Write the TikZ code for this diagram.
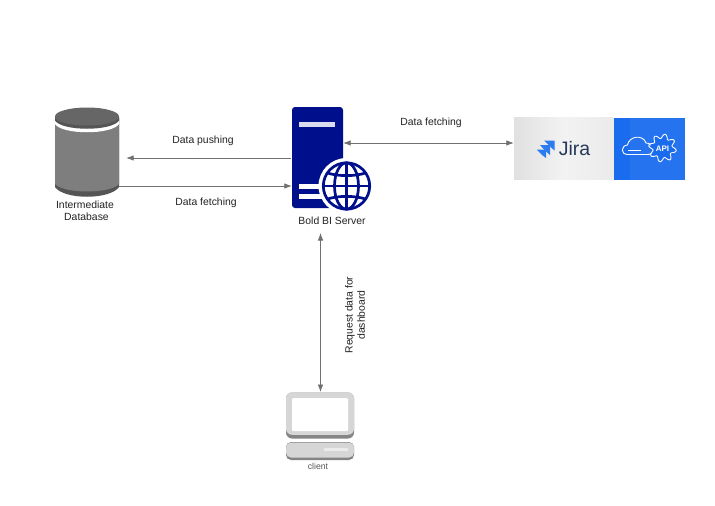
\documentclass[tikz,border=0pt]{standalone}
\usepackage{fontspec}
\setmainfont{Liberation Sans}
\usetikzlibrary{arrows.meta,calc}
\definecolor{navy}{HTML}{00108C}
\definecolor{lin}{HTML}{707070}
\definecolor{dbbody}{HTML}{7E7E7E}
\definecolor{dbtop}{HTML}{666666}
\definecolor{dbdark}{HTML}{555555}
\definecolor{txt}{HTML}{222222}
\definecolor{jirablue}{HTML}{2C7BEF}
\definecolor{jiradark}{HTML}{253858}
\definecolor{apiblue}{HTML}{1A6CEE}
\definecolor{mon}{HTML}{D6D6D6}
\definecolor{mondark}{HTML}{858585}
\tikzset{
  x=1pt,y=-1pt,
  conn/.style={draw=lin,line width=0.7pt},
  tip/.style={-{Latex[length=7.5pt,width=5.5pt]}},
  both/.style={{Latex[length=7.5pt,width=5.5pt]}-{Latex[length=7.5pt,width=5.5pt]}},
  lbl/.style={font=\fontsize{10.4}{12.3}\selectfont,text=txt,inner sep=0pt,align=center},
  box/.style={inner sep=0pt,minimum width=#1},
  globeline/.style={draw=navy,line width=2.7pt},
  apiline/.style={draw=white,line width=0.9pt,line join=round}
}
\begin{document}
\begin{tikzpicture}
\useasboundingbox[fill=white] (0,0) rectangle (715,506);
% database
\node[box=64,minimum height=91] (db) at (87,152.5) {};
\fill[dbdark] (55,118) -- (119,118) -- (119,187) .. controls (110,200) and (64,200) .. (55,187) -- cycle;
\fill[dbbody] (55,118) -- (119,118) -- (119,184) .. controls (110,194) and (64,194) .. (55,184) -- cycle;
\fill[white] (55,118) -- (119,118) -- (119,124) .. controls (112,135) and (62,135) .. (55,124) -- cycle;
\fill[dbdark] (55,117) -- (119,117) -- (119,120.5) .. controls (112,131.5) and (62,131.5) .. (55,120.5) -- cycle;
\fill[dbtop] (87,116.5) ellipse (32 and 9);
% server
\node[box=51,minimum height=101,fill=navy,rounded corners=3pt] (server) at (317.5,157.5) {};
\fill[white!85!navy] (299,122) rectangle (335,127);
\fill[white] (299,184) rectangle (322,188.5);
\fill[white] (299,194) rectangle (322,198.5);
\node[circle,fill=white,minimum size=56,inner sep=0pt] (globe) at (346.5,186) {};
\draw[globeline] (globe) circle (23.2);
\draw[globeline] (globe) ellipse (12 and 23.2);
\draw[globeline] ($(globe)+(0,-23.2)$) -- ($(globe)+(0,23.2)$);
\draw[globeline] ($(globe)+(-23.2,0)$) -- ($(globe)+(23.2,0)$);
\draw[globeline] ($(globe)+(-19,-13)$) .. controls ($(globe)+(-8,-9.5)$) and ($(globe)+(8,-9.5)$) .. ($(globe)+(19,-13)$);
\draw[globeline] ($(globe)+(-19,13)$) .. controls ($(globe)+(-8,9.5)$) and ($(globe)+(8,9.5)$) .. ($(globe)+(19,13)$);
% jira panel
\node[box=99.5,minimum height=62,left color=black!12,right color=black!8,middle color=black!5] (jira) at (563.75,148.5) {};
\node[box=71.5,minimum height=62,fill=apiblue,anchor=west] (api) at (jira.east) {};
\fill[white,opacity=0.05] (630,117.5) rectangle (685,179.5);
\fill[jirablue] (544,140.5) -- (554.5,140.5) -- (554.5,150.5) -- (550.5,147) -- (547.5,144) -- cycle;
\fill[jirablue] (540,145) -- (550,145) -- (550,155) -- (546,151.5) -- (543,148.5) -- cycle;
\fill[jirablue] (536.5,149.5) -- (546,149.5) -- (546,158) -- (542,155) -- cycle;
\node[inner sep=0pt,text=jiradark,font=\fontsize{19.5}{21}\selectfont] (jiratext) at (574.5,148.5) {Jira};
% cloud
\draw[apiline] (628,154.5) .. controls (620,154.5) and (621,145.5) .. (627.5,145) .. controls (629,136) and (643,134) .. (646,143) .. controls (653,142.5) and (656,154.5) .. (648,154.5) -- cycle;
\draw[apiline] (628,150.5) -- (641,150.5);
% gear
\begin{scope}[shift={(662.5,148)}]
\fill[apiblue] (0,0) circle (12.5);
\draw[apiline] plot[smooth cycle,samples=73,domain=0:355] (\x:{11.8+2.2*sin(8*\x)});
\end{scope}
\node[inner sep=0pt,text=white,font=\bfseries\fontsize{8}{9}\selectfont] (apitext) at (662.5,148.5) {API};
% client
\node[box=68,minimum height=46,rounded corners=6pt,fill=mondark] (monback) at (320,415.5) {};
\node[box=68,minimum height=42.5,rounded corners=6pt,fill=mon] (mon) at (320,413.5) {};
\node[box=56,minimum height=33,fill=white,rounded corners=1pt] (screen) at (320,414.5) {};
\node[box=68,minimum height=18,rounded corners=5pt,fill=mondark] (baseback) at (320,451) {};
\node[box=68,minimum height=15,rounded corners=5pt,fill=mon] (clientbase) at (320,450) {};
\fill[black!8] (324,447.5) rectangle (348,451);
% connectors
\coordinate (dbin) at (db.east |- 0,158);
\coordinate (srvout) at (server.west |- 0,158);
\coordinate (dbout) at (db.east |- 0,186);
\coordinate (srvin) at (server.west |- 0,186);
\coordinate (srvr) at (server.east |- 0,143);
\coordinate (jl) at (jira.west |- 0,143);
\coordinate (cup) at (320.5,392);
\coordinate (sdown) at (320.5,233);
\draw[conn,tip] ($(srvout)+(-1,0)$) -- ($(dbin)+(7,0)$);
\draw[conn,tip] (dbout) -- (srvin);
\draw[conn,both] (srvr) -- (jl);
\draw[conn,both] (sdown) -- (cup);
% labels
\node[lbl] (l1) at (203,141) {Data pushing};
\node[lbl] (l2) at (206,203) {Data fetching};
\node[lbl] (l3) at (431,122.5) {Data fetching};
\node[lbl] (l4) at (332,220.5) {Bold BI Server};
\node[lbl,align=center] (l5) at (85,211) {Intermediate\\\hspace*{3pt}Database};
\node[lbl,rotate=90] (l6) at (355,315) {Request data for\\dashboard};
\node[lbl,font=\fontsize{8.7}{10}\selectfont,text=black!65] (l7) at (318,466) {client};
\end{tikzpicture}
\end{document}
